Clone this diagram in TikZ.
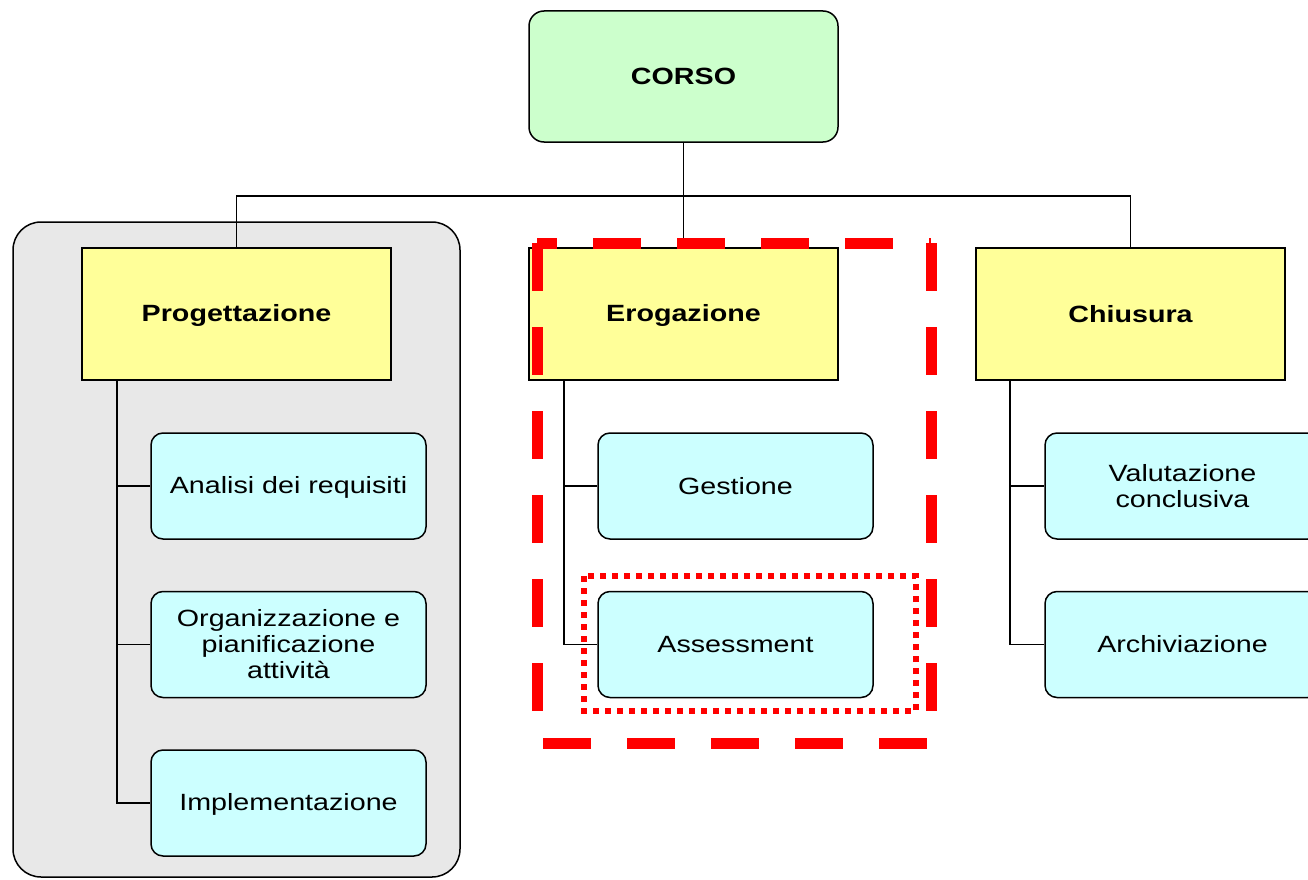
\documentclass[tikz,border=0pt]{standalone}
\usepackage{fontspec}
\setmainfont{Liberation Sans}[FakeStretch=1.22]
\newcommand{\lnstrut}{\rule[-4pt]{0pt}{24pt}}
\begin{document}
\begin{tikzpicture}[x=1pt,y=-1pt,
  base/.style={draw=black, line width=1.5pt, align=center, inner sep=0pt,
    font=\fontsize{23.5}{26}\selectfont},
  rootbox/.style={base, fill=rootgreen, rounded corners=15pt, minimum width=309pt, minimum height=131pt, font=\fontsize{23.5}{26}\selectfont\bfseries},
  phasebox/.style={base, fill=phaseyellow, minimum width=309pt, minimum height=132pt, font=\fontsize{23.5}{26}\selectfont\bfseries},
  taskbox/.style={base, fill=taskcyan, rounded corners=12pt, minimum width=275pt, minimum height=106pt},
  conn/.style={draw=black, line width=1.5pt},
  bigdash/.style={draw=red, line width=11pt, dash pattern=on 48pt off 36pt},
  smalldot/.style={draw=red, line width=5.5pt, dash pattern=on 6pt off 6pt}]
\definecolor{rootgreen}{HTML}{CCFFCC}
\definecolor{phaseyellow}{HTML}{FFFF99}
\definecolor{taskcyan}{HTML}{CCFFFF}
\definecolor{groupgray}{HTML}{E8E8E8}
\useasboundingbox (0,0) rectangle (1308,880);
\clip (0,0) rectangle (1308,880);
% grey group
\draw[fill=groupgray, line width=1.5pt, rounded corners=28pt] (13,222) rectangle (460,877);
% nodes
\node[rootbox] (corso) at (683.5,76.5) {\lnstrut CORSO};
\node[phasebox] (prog) at (236.5,314) {\lnstrut Progettazione};
\node[phasebox] (erog) at (683.5,314) {\lnstrut Erogazione};
\node[phasebox] (chius) at (1130.5,314) {\lnstrut Chiusura};
\node[taskbox] (a1) at (288.5,486) {\lnstrut Analisi dei requisiti};
\node[taskbox] (a2) at (288.5,644.5) {\lnstrut Organizzazione e\\\lnstrut pianificazione\\\lnstrut attività};
\node[taskbox] (a3) at (288.5,803) {\lnstrut Implementazione};
\node[taskbox] (b1) at (735.5,486) {\lnstrut Gestione};
\node[taskbox] (b2) at (735.5,644.5) {\lnstrut Assessment};
\node[taskbox] (c1) at (1182.5,486) {\lnstrut Valutazione\\\lnstrut conclusiva};
\node[taskbox] (c2) at (1182.5,644.5) {\lnstrut Archiviazione};
% connectors
\coordinate (bus) at (683.5,196);
\draw[conn] (corso.south) -- (bus);
\draw[conn] (bus) -| (prog.north);
\draw[conn] (bus) -- (erog.north);
\draw[conn] (bus) -| (chius.north);
\coordinate (pl) at (117,380);
\coordinate (el) at (564,380);
\coordinate (cl) at (1010,380);
\draw[conn] (pl) |- (a3.west);
\draw[conn] (pl |- a1.west) -- (a1.west);
\draw[conn] (pl |- a2.west) -- (a2.west);
\draw[conn] (el) |- (b2.west);
\draw[conn] (el |- b1.west) -- (b1.west);
\draw[conn] (cl) |- (c2.west);
\draw[conn] (cl |- c1.west) -- (c1.west);
% red dashed frame
\draw[bigdash, dash phase=28pt] (537,243) -- (931,243);
\draw[bigdash] (931,243) -- (931,743);
\draw[bigdash] (537,243) -- (537,743);
\draw[bigdash, dash phase=78pt] (537,743) -- (931,743);
% red dotted frame
\draw[smalldot] (584,576) rectangle (916,711);
\end{tikzpicture}
\end{document}
